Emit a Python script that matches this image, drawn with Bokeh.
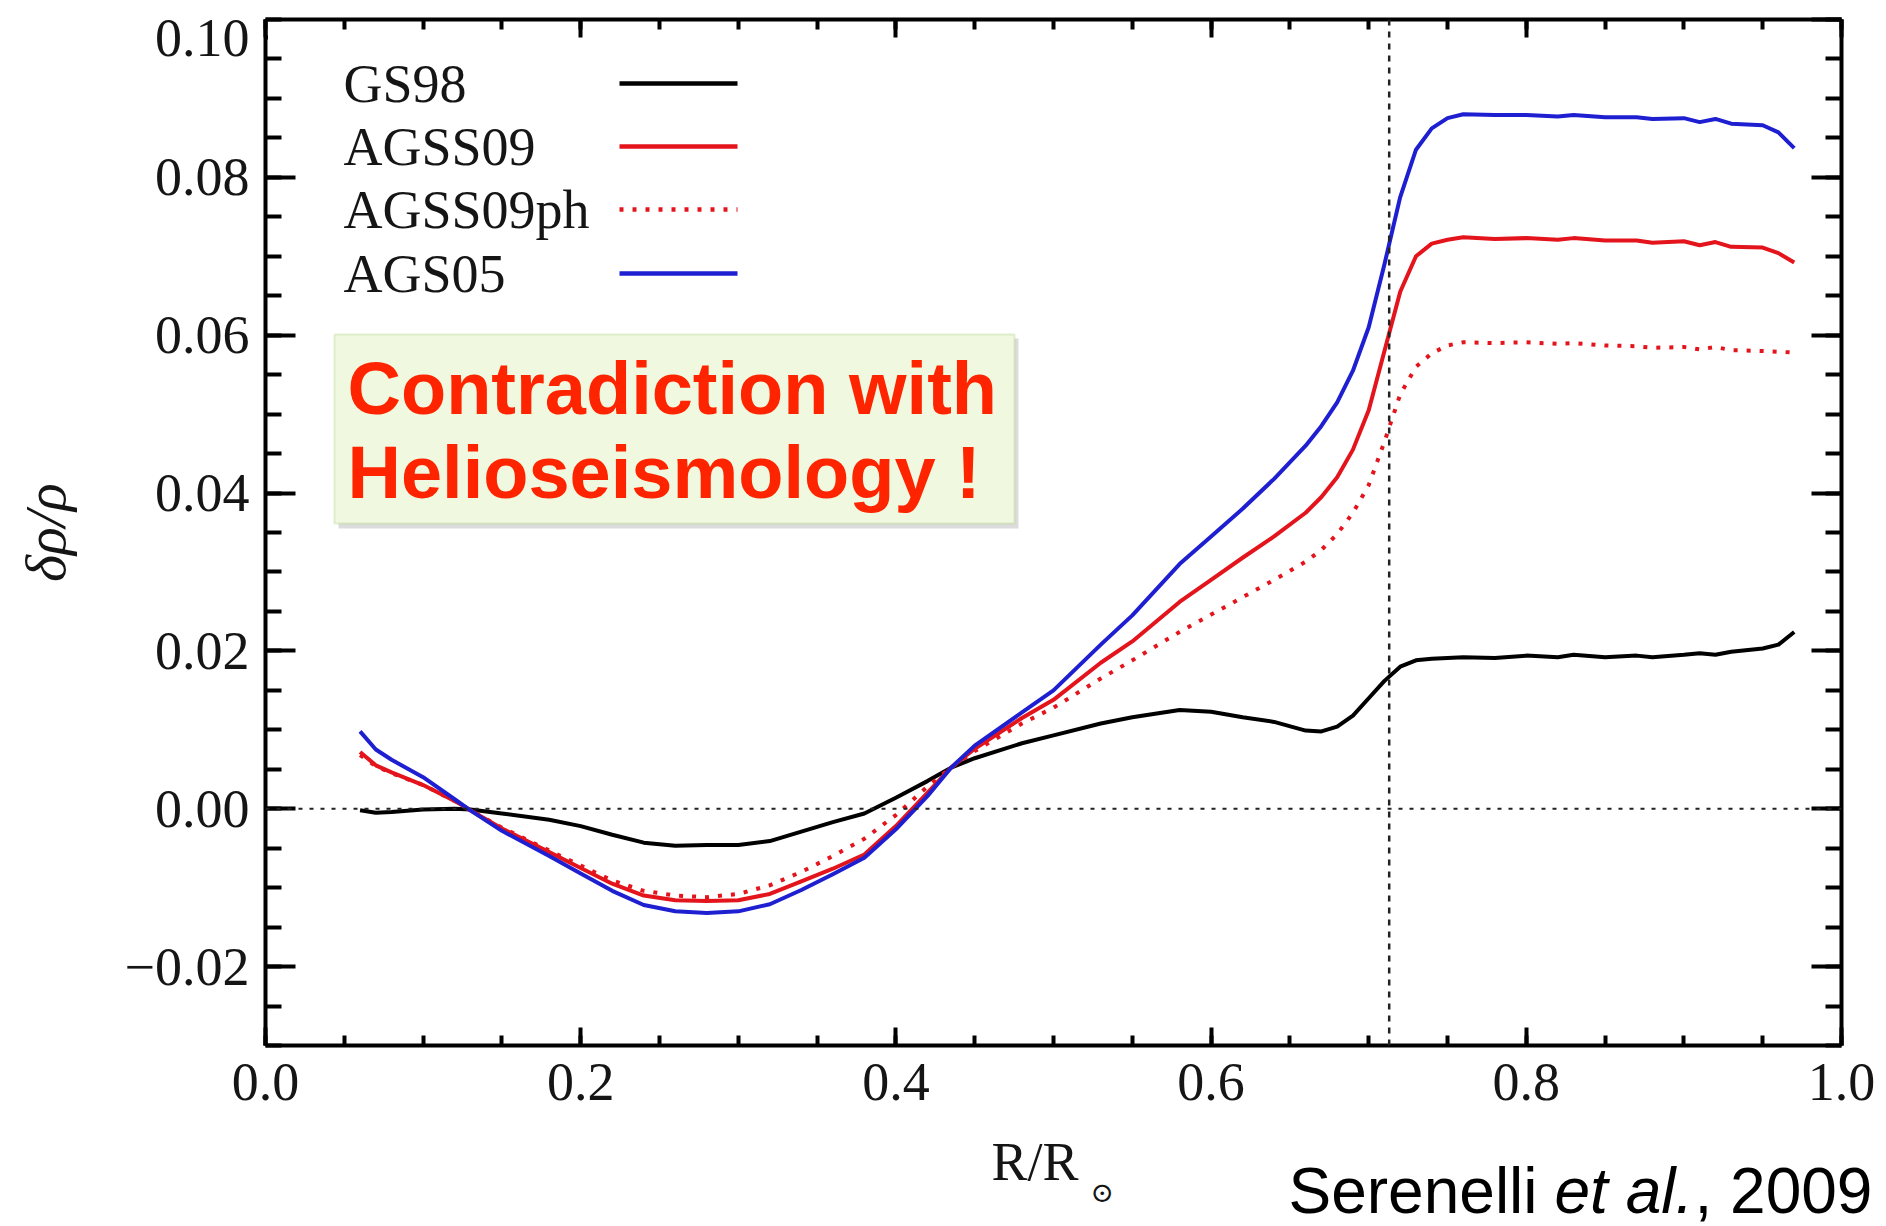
from bokeh.plotting import figure
from bokeh.layouts import column
from bokeh.models import (LinearAxis, FixedTicker, PrintfTickFormatter, Span, BoxAnnotation,
                          Label, ColumnDataSource, Range1d)
from bokeh.core.properties import value
from bokeh.embed import file_html
from bokeh.resources import INLINE

# ---------------- data ----------------
radius = [0.06, 0.07, 0.08, 0.10, 0.12, 0.13, 0.15, 0.18, 0.20, 0.22, 0.24, 0.26, 0.28, 0.30,
          0.32, 0.34, 0.36, 0.38, 0.40, 0.42, 0.435, 0.45, 0.48, 0.50, 0.53, 0.55, 0.58, 0.60,
          0.62, 0.64, 0.66, 0.67, 0.68, 0.69, 0.70, 0.71, 0.72, 0.73, 0.74, 0.75, 0.76, 0.78,
          0.80, 0.82, 0.83, 0.85, 0.87, 0.88, 0.90, 0.91, 0.92, 0.93, 0.95, 0.96, 0.97]

gs98 = [-0.0002, -0.0005, -0.0004, -0.0001, 0.0000, -0.0001, -0.0006, -0.0014, -0.0022, -0.0033,
        -0.0043, -0.0047, -0.0046, -0.0046, -0.0041, -0.0029, -0.0017, -0.0006, 0.0014, 0.0035,
        0.0052, 0.0064, 0.0083, 0.0093, 0.0108, 0.0116, 0.0125, 0.0123, 0.0116, 0.0110, 0.0099,
        0.0098, 0.0104, 0.0118, 0.0140, 0.0162, 0.0180, 0.0188, 0.0190, 0.0191, 0.0192, 0.0191,
        0.0194, 0.0192, 0.0195, 0.0192, 0.0194, 0.0192, 0.0195, 0.0197, 0.0195, 0.0199, 0.0203,
        0.0208, 0.0224]

agss09 = [0.0072, 0.0055, 0.0046, 0.0030, 0.0010, -0.0002, -0.0025, -0.0055, -0.0075, -0.0095,
          -0.0110, -0.0116, -0.0117, -0.0116, -0.0108, -0.0092, -0.0076, -0.0058, -0.0022, 0.0020,
          0.0052, 0.0076, 0.0115, 0.0138, 0.0185, 0.0212, 0.0262, 0.0290, 0.0318, 0.0345, 0.0375,
          0.0395, 0.0420, 0.0455, 0.0505, 0.0580, 0.0655, 0.0700, 0.0716, 0.0721, 0.0724, 0.0722,
          0.0723, 0.0721, 0.0723, 0.0720, 0.0720, 0.0717, 0.0719, 0.0714, 0.0718, 0.0712, 0.0711,
          0.0704, 0.0692]

agss09ph = [0.0068, 0.0054, 0.0045, 0.0030, 0.0010, -0.0002, -0.0024, -0.0053, -0.0072, -0.0091,
            -0.0104, -0.0110, -0.0112, -0.0108, -0.0097, -0.0080, -0.0060, -0.0038, -0.0008, 0.0028,
            0.0052, 0.0073, 0.0108, 0.0128, 0.0165, 0.0188, 0.0224, 0.0246, 0.0268, 0.0290, 0.0313,
            0.0328, 0.0348, 0.0375, 0.0410, 0.0465, 0.0525, 0.0560, 0.0577, 0.0587, 0.0591, 0.0590,
            0.0591, 0.0589, 0.0590, 0.0587, 0.0586, 0.0584, 0.0585, 0.0582, 0.0585, 0.0581, 0.0580,
            0.0579, 0.0578]

ags05 = [0.0098, 0.0075, 0.0062, 0.0040, 0.0012, -0.0002, -0.0028, -0.0060, -0.0082, -0.0104,
         -0.0122, -0.0130, -0.0132, -0.0130, -0.0121, -0.0103, -0.0083, -0.0062, -0.0026, 0.0016,
         0.0052, 0.0080, 0.0122, 0.0150, 0.0208, 0.0245, 0.0310, 0.0345, 0.0380, 0.0418, 0.0460,
         0.0485, 0.0515, 0.0555, 0.0610, 0.0690, 0.0775, 0.0835, 0.0862, 0.0875, 0.0880, 0.0879,
         0.0879, 0.0877, 0.0879, 0.0876, 0.0876, 0.0874, 0.0875, 0.0870, 0.0874, 0.0868, 0.0866,
         0.0857, 0.0837]

series_names = ["GS98", "AGSS09", "AGSS09ph", "AGS05"]
convective_base = 0.713

x_ticks = [0.0, 0.2, 0.4, 0.6, 0.8, 1.0]
y_ticks = [-0.02, 0.0, 0.02, 0.04, 0.06, 0.08, 0.10]
y_tick_labels = ["\u22120.02", "0.00", "0.02", "0.04", "0.06", "0.08", "0.10"]
x_minor = [round(i * 0.05, 3) for i in range(21)]
y_minor = [round(-0.03 + i * 0.005, 4) for i in range(27)]

# ---------------- geometry ----------------
W = 1886
H_MAIN = 1127
H_FOOT = 1226 - H_MAIN
FRAME_L, FRAME_R, FRAME_T, FRAME_B = 265, 1841, 19, 1045
X0, X1, Y0, Y1 = 0.0, 1.0, -0.03, 0.10

def fx(px):  # canvas px -> data x
    return X0 + (px - FRAME_L) * (X1 - X0) / (FRAME_R - FRAME_L)

def fy(py):  # canvas px -> data y
    return Y1 - (py - FRAME_T) * (Y1 - Y0) / (FRAME_B - FRAME_T)

# ---------------- main figure ----------------
p = figure(width=W, height=H_MAIN, x_range=Range1d(X0, X1), y_range=Range1d(Y0, Y1),
           output_backend="svg", toolbar_location=None, title_location=None,
           min_border_left=FRAME_L, min_border_right=W - FRAME_R,
           min_border_top=FRAME_T, min_border_bottom=H_MAIN - FRAME_B,
           background_fill_color="white", border_fill_color="white")
p.frame_align = False
p.xgrid.visible = False
p.ygrid.visible = False
p.outline_line_color = None

SERIF = "Liberation Serif"
TICK_SIZE = "54px"
INK = "#151515"

def style_axis(ax, major_in, minor_in, show_labels):
    ax.axis_line_width = 4
    ax.axis_line_color = "black"
    ax.major_tick_in = major_in
    ax.major_tick_out = 0
    ax.minor_tick_in = minor_in
    ax.minor_tick_out = 0
    ax.major_tick_line_width = 4
    ax.minor_tick_line_width = 4
    ax.major_tick_line_color = "black"
    ax.minor_tick_line_color = "black"
    if show_labels:
        ax.major_label_text_font = SERIF
        ax.major_label_text_font_size = TICK_SIZE
        ax.major_label_text_color = INK
    else:
        ax.major_label_text_font_size = "1px"
        ax.major_label_text_color = None
        ax.major_label_text_alpha = 0
        ax.major_label_standoff = 0

# bottom axis
xb = p.xaxis[0]
xb.ticker = FixedTicker(ticks=x_ticks, minor_ticks=x_minor)
xb.formatter = PrintfTickFormatter(format="%.1f")
style_axis(xb, 18, 10, True)
xb.major_label_standoff = 18

# left axis: the top label (0.10) sits just below the frame corner, as in the original
top_label_pos = fy(37)
left_ticks = y_ticks[:-1] + [top_label_pos]
yl = p.yaxis[0]
yl.ticker = FixedTicker(ticks=left_ticks, minor_ticks=y_minor)
yl.major_label_overrides = {t: s for t, s in zip(left_ticks, y_tick_labels)}
style_axis(yl, 30, 16, True)
yl.major_label_standoff = 16
yl.axis_label = "\u03b4\u03c1/\u03c1"
yl.axis_label_text_font = SERIF
yl.axis_label_text_font_style = "italic"
yl.axis_label_text_font_size = "58px"
yl.axis_label_text_color = INK
yl.axis_label_standoff = 44

# top and right axes: ticks only
xa = LinearAxis(ticker=FixedTicker(ticks=x_ticks, minor_ticks=x_minor))
style_axis(xa, 18, 10, False)
p.add_layout(xa, "above")

yr = LinearAxis(ticker=FixedTicker(ticks=y_ticks, minor_ticks=y_minor))
style_axis(yr, 30, 16, False)
p.add_layout(yr, "right")

# mask the helper tick mark that carries the shifted "0.10" label
p.add_layout(BoxAnnotation(left=fx(267.5), right=fx(300), top=fy(32), bottom=fy(42),
                           fill_color="white", fill_alpha=1.0, line_color=None))

# reference lines
p.add_layout(Span(location=0.0, dimension="width", line_color="#222222",
                  line_width=2, line_dash="4 7"))
p.add_layout(Span(location=convective_base, dimension="height", line_color="#222222",
                  line_width=2.5, line_dash="6 6"))

# curves
RED = "#e3141c"
BLUE = "#1f1fd2"
src = ColumnDataSource(dict(r=radius, gs98=gs98, agss09=agss09, agss09ph=agss09ph, ags05=ags05))
styles = [("gs98", "black", "solid"), ("agss09", RED, "solid"),
          ("agss09ph", RED, "4 9"), ("ags05", BLUE, "solid")]
for col, color, dash in styles:
    p.line("r", col, source=src, line_color=color, line_width=4, line_dash=dash,
           line_join="round")

# ---- legend (label first, then the sample line, as in the original) ----
leg_rows = [83, 146, 209, 273]
for name, (col, color, dash), row in zip(series_names, styles, leg_rows):
    p.add_layout(Label(x=fx(343), y=fy(row), text=name, text_font=SERIF,
                       text_font_size="54px", text_color=INK, text_baseline="middle"))
    p.line([fx(619), fx(737)], [fy(row), fy(row)], line_color=color, line_width=4.5,
           line_dash=dash)

# ---- annotation box ----
p.add_layout(BoxAnnotation(left=fx(338), right=fx(1018), top=fy(338), bottom=fy(528),
                           fill_color="#9a9a9a", fill_alpha=0.35, line_color=None))
p.add_layout(BoxAnnotation(left=fx(334), right=fx(1014), top=fy(334), bottom=fy(523),
                           fill_color="#f0f9df", fill_alpha=1.0, line_color="#a9c97e",
                           line_width=2))
for txt, base in [("Contradiction with", 388), ("Helioseismology !", 472)]:
    p.add_layout(Label(x=fx(347), y=fy(base), text=txt, text_font="Liberation Sans",
                       text_font_style="bold", text_font_size="74px", text_color="#ff2400",
                       text_baseline="alphabetic"))

# ---------------- footer strip: x-axis title and citation ----------------
f = figure(width=W, height=H_FOOT, x_range=Range1d(0, W), y_range=Range1d(H_FOOT, 0),
           output_backend="svg", toolbar_location=None, title_location=None,
           min_border=0, min_border_left=0, min_border_right=0,
           min_border_top=0, min_border_bottom=0,
           x_axis_type=None, y_axis_type=None,
           background_fill_color="white", border_fill_color="white")
f.frame_align = False
f.grid.visible = False
f.outline_line_color = None

def fyf(py):  # canvas px -> footer y
    return py - H_MAIN

f.text(x=[991], y=[fyf(1161)], text=["R/R"], text_font=value(SERIF), text_font_size="54px",
       text_color=INK, text_baseline="middle")
f.text(x=[1090], y=[fyf(1192)], text=["\u2299"], text_font=value("DejaVu Serif"),
       text_font_size="28px", text_color=INK, text_baseline="middle")

cite_mid = fyf(1190)
f.text(x=[1288], y=[cite_mid], text=["Serenelli"], text_font=value("Liberation Sans"),
       text_font_size="64px", text_color="black", text_baseline="middle")
f.text(x=[1554], y=[cite_mid], text=["et al."], text_font=value("Liberation Sans"),
       text_font_style="italic", text_font_size="64px", text_color="black",
       text_baseline="middle")
f.text(x=[1694], y=[cite_mid], text=[", 2009"], text_font=value("Liberation Sans"),
       text_font_size="64px", text_color="black", text_baseline="middle")

layout = column(p, f, spacing=0)
open("out.html", "w").write(file_html(layout, INLINE))
